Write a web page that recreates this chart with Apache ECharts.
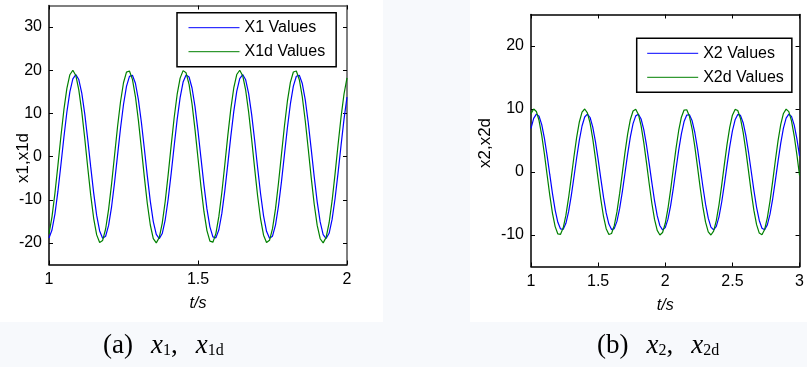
<!DOCTYPE html>
<html>
<head>
<meta charset="utf-8">
<script src="https://cdn.jsdelivr.net/npm/echarts@6/dist/echarts.min.js"></script>
<style>
html,body{margin:0;padding:0;background:#f7f9fc;}
#chart{width:807px;height:367px;}
</style>
</head>
<body>
<div id="chart"></div>
<script>
// ---- Left panel (a): time samples and values ----
const tLeft = [1.00,1.01,1.02,1.03,1.04,1.05,1.06,1.07,1.08,1.09,1.10,1.11,1.12,1.13,1.14,1.15,1.16,1.17,1.18,1.19,1.20,1.21,1.22,1.23,1.24,1.25,1.26,1.27,1.28,1.29,1.30,1.31,1.32,1.33,1.34,1.35,1.36,1.37,1.38,1.39,1.40,1.41,1.42,1.43,1.44,1.45,1.46,1.47,1.48,1.49,1.50,1.51,1.52,1.53,1.54,1.55,1.56,1.57,1.58,1.59,1.60,1.61,1.62,1.63,1.64,1.65,1.66,1.67,1.68,1.69,1.70,1.71,1.72,1.73,1.74,1.75,1.76,1.77,1.78,1.79,1.80,1.81,1.82,1.83,1.84,1.85,1.86,1.87,1.88,1.89,1.90,1.91,1.92,1.93,1.94,1.95,1.96,1.97,1.98,1.99,2.00];
const x1dValues = [-17.91,-13.96,-8.44,-1.98,4.70,10.86,15.80,18.96,20.00,18.79,15.46,10.41,4.18,-2.52,-8.93,-14.35,-18.14,-19.90,-19.43,-16.78,-12.24,-6.32,0.30,6.90,12.71,17.10,19.57,19.84,17.88,13.91,8.38,1.91,-4.77,-10.92,-15.85,-18.99,-20.00,-18.76,-15.41,-10.34,-4.11,2.59,9.00,14.39,18.17,19.91,19.41,16.73,12.18,6.25,-0.38,-6.96,-12.77,-17.14,-19.58,-19.83,-17.84,-13.86,-8.32,-1.84,4.85,10.98,15.89,19.01,20.00,18.73,15.37,10.28,4.03,-2.67,-9.07,-14.45,-18.21,-19.92,-19.40,-16.69,-12.12,-6.18,0.45,7.03,12.83,17.18,19.60,19.82,17.81,13.81,8.25,1.76,-4.92,-11.05,-15.94,-19.03,-19.99,-18.71,-15.32,-10.22,-3.96,2.74,9.13,14.50,18.24];
const x1Values = [-18.85,-17.01,-13.26,-8.02,-1.88,4.47,10.32,15.01,18.01,19.00,17.85,14.69,9.89,3.97,-2.39,-8.48,-13.63,-17.23,-18.91,-18.46,-15.94,-11.63,-6.00,0.29,6.56,12.07,16.25,18.59,18.85,16.99,13.21,7.96,1.81,-4.53,-10.37,-15.06,-18.04,-19.00,-17.82,-14.64,-9.82,-3.90,2.46,8.55,13.67,17.26,18.91,18.44,15.89,11.57,5.94,-0.36,-6.61,-12.13,-16.28,-18.60,-18.84,-16.95,-13.17,-7.90,-1.75,4.61,10.43,15.10,18.06,19.00,17.79,14.60,9.77,3.83,-2.54,-8.62,-13.73,-17.30,-18.92,-18.43,-15.86,-11.51,-5.87,0.43,6.68,12.19,16.32,18.62,18.83,16.92,13.12,7.84,1.67,-4.67,-10.50,-15.14,-18.08,-18.99,-17.77,-14.55,-9.71,-3.76,2.60,8.67,13.78];
const leftYTicks = [-20,-10,0,10,20,30];
const leftXTicks = [1,1.5,2];

// ---- Right panel (b): time samples and values ----
const tRight = [1.00,1.02,1.04,1.06,1.08,1.10,1.12,1.14,1.16,1.18,1.20,1.22,1.24,1.26,1.28,1.30,1.32,1.34,1.36,1.38,1.40,1.42,1.44,1.46,1.48,1.50,1.52,1.54,1.56,1.58,1.60,1.62,1.64,1.66,1.68,1.70,1.72,1.74,1.76,1.78,1.80,1.82,1.84,1.86,1.88,1.90,1.92,1.94,1.96,1.98,2.00,2.02,2.04,2.06,2.08,2.10,2.12,2.14,2.16,2.18,2.20,2.22,2.24,2.26,2.28,2.30,2.32,2.34,2.36,2.38,2.40,2.42,2.44,2.46,2.48,2.50,2.52,2.54,2.56,2.58,2.60,2.62,2.64,2.66,2.68,2.70,2.72,2.74,2.76,2.78,2.80,2.82,2.84,2.86,2.88,2.90,2.92,2.94,2.96,2.98,3.00];
const x2dValues = [9.26,9.99,9.61,8.17,5.82,2.83,-0.47,-3.72,-6.56,-8.67,-9.83,-9.89,-8.86,-6.85,-4.08,-0.86,2.46,5.50,7.94,9.49,10.00,9.40,7.75,5.25,2.17,-1.15,-4.35,-7.06,-8.99,-9.93,-9.77,-8.52,-6.33,-3.44,-0.17,3.12,6.06,8.34,9.69,9.97,9.14,7.31,4.66,1.50,-1.83,-4.96,-7.53,-9.27,-9.99,-9.60,-8.14,-5.79,-2.79,0.51,3.76,6.59,8.70,9.83,9.88,8.84,6.82,4.04,0.81,-2.50,-5.54,-7.97,-9.51,-10.00,-9.38,-7.73,-5.22,-2.13,1.20,4.39,7.09,9.01,9.94,9.76,8.50,6.30,3.40,0.13,-3.16,-6.10,-8.36,-9.70,-9.96,-9.12,-7.27,-4.62,-1.45,1.87,4.99,7.56,9.29,9.99,9.59,8.12,5.75,2.75,-0.55];
const x2Values = [6.91,8.52,9.19,8.84,7.52,5.35,2.60,-0.43,-3.42,-6.04,-7.98,-9.04,-9.10,-8.15,-6.30,-3.75,-0.79,2.26,5.06,7.30,8.73,9.20,8.65,7.13,4.83,2.00,-1.06,-4.00,-6.50,-8.27,-9.14,-8.99,-7.84,-5.82,-3.16,-0.16,2.87,5.58,7.67,8.91,9.17,8.41,6.73,4.29,1.38,-1.68,-4.56,-6.93,-8.53,-9.19,-8.83,-7.49,-5.33,-2.57,0.47,3.46,6.06,8.00,9.04,9.09,8.13,6.27,3.72,0.75,-2.30,-5.10,-7.33,-8.75,-9.20,-8.63,-7.11,-4.80,-1.96,1.10,4.04,6.52,8.29,9.14,8.98,7.82,5.80,3.13,0.12,-2.91,-5.61,-7.69,-8.92,-9.16,-8.39,-6.69,-4.25,-1.33,1.72,4.59,6.96,8.55,9.19,8.82,7.47,5.29,2.53];
const rightYTicks = [-10,0,10,20];
const rightXTicks = [1,1.5,2,2.5,3];

const seriesNames = ['X1 Values','X1d Values','X2 Values','X2d Values'];
const axisNames = {x:'t/s', y1:'x1,x1d', y2:'x2,x2d'};

const pairs = (ts, vs) => ts.map((t, i) => [t, vs[i]]);

const FONT = 'Liberation Sans';
const labelStyle = {color:'#000', fontSize:16, fontFamily:FONT};

function xAx(grid, min, max, ticks, pos, showLabel, lineColor) {
  return {
    gridIndex:grid, type:'value', min:min, max:max, interval:0.5, position:pos,
    axisLine:{show:true, onZero:false, lineStyle:{color:lineColor, width:1.5}},
    axisTick:{show:true, inside:true, length:4, customValues:ticks, lineStyle:{color:'#000', width:1}},
    axisLabel:Object.assign({show:showLabel, margin:7, customValues:ticks}, labelStyle),
    splitLine:{show:false},
    name: showLabel ? axisNames.x : '',
    nameLocation:'middle', nameGap:31, nameMoveOverlap:false,
    nameTextStyle:{color:'#000', fontSize:16, fontStyle:'italic', fontFamily:FONT}
  };
}
function yAx(grid, min, max, ticks, pos, showLabel, lineColor, name, gap, pad) {
  return {
    gridIndex:grid, type:'value', min:min, max:max, interval:5, position:pos,
    axisLine:{show:true, onZero:false, lineStyle:{color:lineColor, width:1.5}},
    axisTick:{show:true, inside:true, length:4, customValues:ticks, lineStyle:{color:'#000', width:1}},
    axisLabel:Object.assign({show:showLabel, margin:7, customValues:ticks}, labelStyle),
    splitLine:{show:false},
    name: showLabel ? name : '',
    nameLocation:'middle', nameGap:gap || 20, nameRotate:90, nameMoveOverlap:false,
    nameTextStyle:{color:'#000', fontSize:17, fontFamily:FONT, padding:pad || 0}
  };
}

const chart = echarts.init(document.getElementById('chart'), null, {renderer:'canvas'});
const legendBase = {
  orient:'vertical', itemWidth:51, itemHeight:14, itemGap:8,
  backgroundColor:'#fff', borderColor:'#000', borderWidth:1.5,
  itemStyle:{opacity:0, borderWidth:0},
  lineStyle:{width:1},
  textStyle:{color:'#000', fontSize:16, fontFamily:FONT}, selectedMode:false
};
chart.setOption({
  backgroundColor:'#f7f9fc',
  animation:false,
  graphic:[
    {type:'rect', z:-100, silent:true, shape:{x:0, y:0, width:383, height:322}, style:{fill:'#fff'}},
    {type:'rect', z:-100, silent:true, shape:{x:470, y:0, width:337, height:322}, style:{fill:'#fff'}},
    {type:'text', left:103, top:332, silent:true, style:{
      text:'{n|(a)}{sp| }{x|x}{s|1}{n|,}{sp| }{x|x}{s|1d}',
      rich:{
        n:{fontFamily:'Liberation Serif', fontSize:27, fill:'#000'},
        sp:{fontFamily:'Liberation Serif', fontSize:27, width:18},
        x:{fontFamily:'Liberation Serif', fontStyle:'italic', fontSize:27, fill:'#000'},
        s:{fontFamily:'Liberation Serif', fontSize:16, fill:'#000', padding:[10,0,0,0]}
      }}},
    {type:'text', left:597, top:332, silent:true, style:{
      text:'{n|(b)}{sp| }{x|x}{s|2}{n|,}{sp| }{x|x}{s|2d}',
      rich:{
        n:{fontFamily:'Liberation Serif', fontSize:27, fill:'#000'},
        sp:{fontFamily:'Liberation Serif', fontSize:27, width:18},
        x:{fontFamily:'Liberation Serif', fontStyle:'italic', fontSize:27, fill:'#000'},
        s:{fontFamily:'Liberation Serif', fontSize:16, fill:'#000', padding:[10,0,0,0]}
      }}}
  ],
  legend:[
    Object.assign({left:177, top:12.7, padding:[7,11,7,11], data:[seriesNames[0], seriesNames[1]]}, legendBase),
    Object.assign({left:636.7, top:38.3, padding:[7,8,7,10], data:[seriesNames[2], seriesNames[3]]}, legendBase)
  ],
  grid:[
    {left:49, top:5.5, width:298, height:259},
    {left:531, top:14.5, width:275.5, height:252}
  ],
  xAxis:[
    xAx(0, 1, 2, leftXTicks, 'bottom', true, '#000'),
    xAx(0, 1, 2, leftXTicks, 'top', false, '#555'),
    xAx(1, 1, 3, rightXTicks, 'bottom', true, '#000'),
    xAx(1, 1, 3, rightXTicks, 'top', false, '#000')
  ],
  yAxis:[
    yAx(0, -25, 35, leftYTicks, 'left', true, '#000', axisNames.y1, 17.5, [0,46,0,0]),
    yAx(0, -25, 35, leftYTicks, 'right', false, '#555', ''),
    yAx(1, -15, 25, rightYTicks, 'left', true, '#000', axisNames.y2, 37, [0,5,0,0]),
    yAx(1, -15, 25, rightYTicks, 'right', false, '#000', '')
  ],
  series:[
    {name:seriesNames[0], type:'line', xAxisIndex:0, yAxisIndex:0, data:pairs(tLeft, x1Values), symbol:'none', lineStyle:{color:'#0000ff', width:1.2}, itemStyle:{color:'#0000ff'}},
    {name:seriesNames[1], type:'line', xAxisIndex:0, yAxisIndex:0, data:pairs(tLeft, x1dValues), symbol:'none', lineStyle:{color:'#008000', width:1.2}, itemStyle:{color:'#008000'}},
    {name:seriesNames[2], type:'line', xAxisIndex:2, yAxisIndex:2, data:pairs(tRight, x2Values), symbol:'none', lineStyle:{color:'#0000ff', width:1.2}, itemStyle:{color:'#0000ff'}},
    {name:seriesNames[3], type:'line', xAxisIndex:2, yAxisIndex:2, data:pairs(tRight, x2dValues), symbol:'none', lineStyle:{color:'#008000', width:1.2}, itemStyle:{color:'#008000'}}
  ]
});
</script>
</body>
</html>
